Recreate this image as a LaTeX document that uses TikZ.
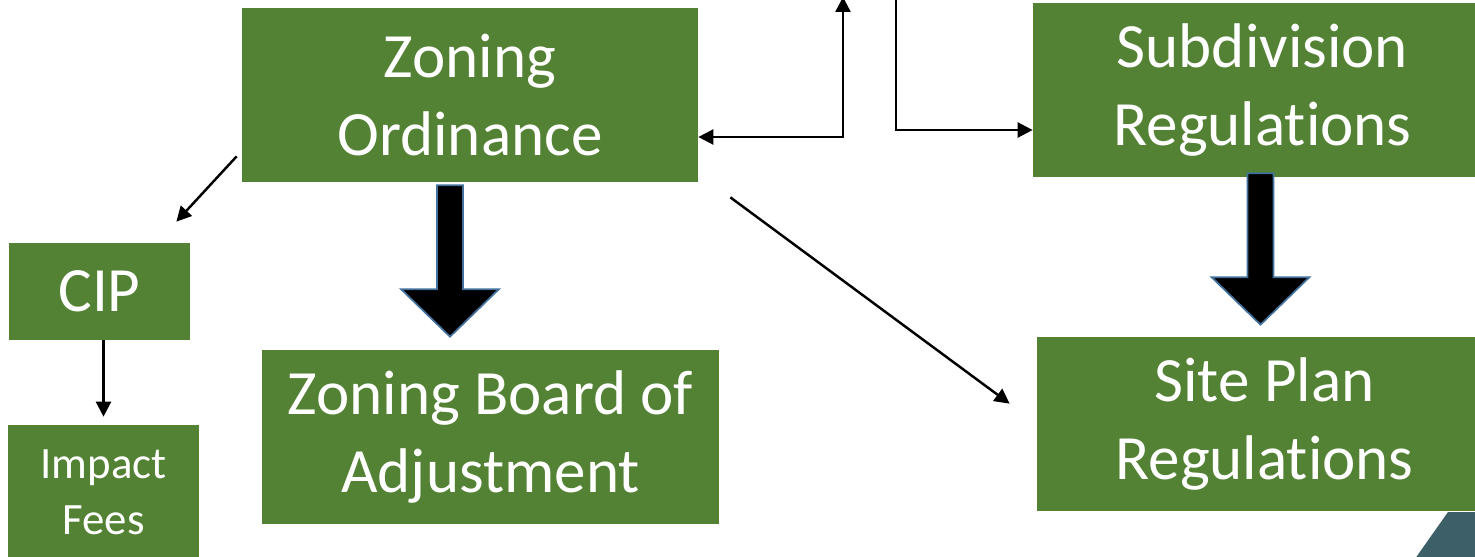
\documentclass[tikz,border=0pt]{standalone}
\usepackage{fontspec}
\setmainfont{Carlito}[Ligatures={NoCommon}]
\usetikzlibrary{arrows.meta,calc}
\definecolor{boxgreen}{HTML}{548235}
\definecolor{arrowedge}{HTML}{41719C}
\definecolor{cornerteal}{HTML}{3C5F68}

% thick block arrow pointing down from #1 to #2 (same x)
\newcommand\downblock[2]{%
  \path let \p1=(#1), \p2=(#2) in
    [bigarrow] (\x1-7.4pt,\y1) -- (\x1+7.4pt,\y1) -- (\x1+7.4pt,\y2+27pt)
      -- (\x1+27.8pt,\y2+27pt) -- (\x2,\y2) -- (\x1-27.8pt,\y2+27pt)
      -- (\x1-7.4pt,\y2+27pt) -- cycle;}

\begin{document}
\begin{tikzpicture}[x=0.02cm,y=-0.02cm,
  box/.style 2 args={fill=boxgreen, text=white, align=center, inner sep=0pt,
    minimum width=#1*0.02cm, minimum height=#2*0.02cm,
    font=\fontsize{35.9}{44}\selectfont},
  smallfont/.style={font=\fontsize{25.5}{32}\selectfont},
  link/.style={draw=black, line width=1.4pt, -{Triangle[length=8.5pt,width=8.5pt]}},
  bigarrow/.style={fill=black, draw=arrowedge, line width=1pt, line join=miter}]
\useasboundingbox (0,0) rectangle (1475,556);
\clip (0,0) rectangle (1475,556);

% boxes (centre, width, height in pixels)
\node[box={456}{174}] (zo)  at (470,95)    {Zoning\\Ordinance};
\node[box={459}{174}] (sub) at (1262.5,90) {Subdivision\\Regulations};
\node[box={455}{174}] (sp)  at (1264.5,424){Site Plan\\Regulations};
\node[box={457}{174}] (zba) at (490.5,437) {Zoning Board of\\Adjustment};
\node[box={181}{97}]  (cip) at (99.5,291.5){CIP};
\node[box={191}{135}, smallfont] (if) at (103.5,492.5) {Impact\\Fees};

% free ends leaving the top edge
\coordinate (topL) at (843,-3);
\coordinate (topR) at (896,-5);

% thin connectors
\draw[link, {Triangle[length=8.5pt,width=8.5pt]}-{Triangle[length=8.5pt,width=8.5pt]}]
  ($(zo.east)+(0,42)$) -| (topL);
\draw[link] (topR) |- ($(sub.west)+(0,40)$);
\draw[link] ($(zo.south west)+(-5,-26)$) -- ($(cip.north east)+(-14,-21)$);
\draw[link] ($(cip.south)+(4,0)$) -- ($(if.north)+(0,-8)$);
\draw[link] ($(zo.south east)+(32,15)$) -- ($(sp.north west)+(-27,67)$);

% block arrows
\coordinate (zoA) at ($(zo.south)+(-20,3)$);
\coordinate (zoB) at ($(zoA |- zba.north)+(0,-13)$);
\downblock{zoA}{zoB}
\coordinate (subA) at ($(sub.south)+(-2,-4)$);
\coordinate (subB) at ($(subA |- sp.north)+(0,-12)$);
\downblock{subA}{subB}

% corner accent
\fill[cornerteal] (1417,556) -- (1448,512) -- (1480,512) -- (1480,560) -- (1414,560) -- cycle;
\end{tikzpicture}
\end{document}
